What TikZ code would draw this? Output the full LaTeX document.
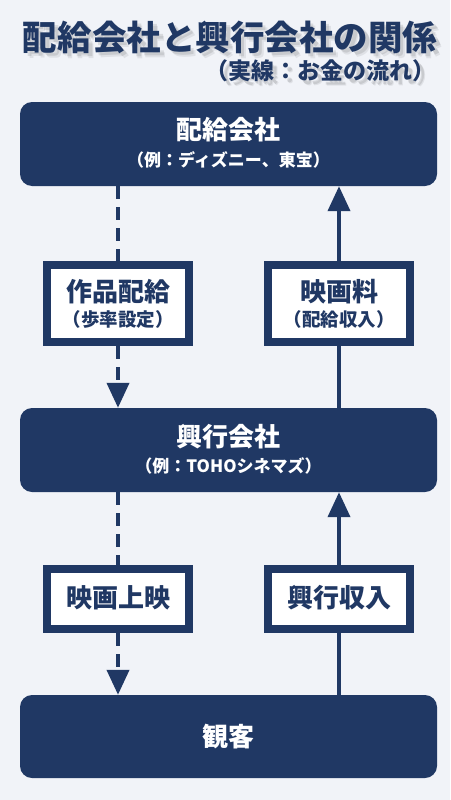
\documentclass[tikz,border=0pt]{standalone}
\usepackage{fontspec}
\setmainfont{Noto Sans CJK JP}
\usetikzlibrary{arrows.meta}
\definecolor{navy}{HTML}{203864}
\definecolor{bgc}{HTML}{F1F3F8}
\begin{document}
\begin{tikzpicture}[x=1pt,y=-1pt,
  bigbox/.style={fill=navy,draw=none,rounded corners=12pt,minimum width=417pt,inner sep=0pt},
  labbox/.style={fill=white,draw=navy,line width=8pt,minimum width=142pt,inner sep=0pt},
  maintxt/.style={text=white,font=\bfseries\fontsize{26}{30}\selectfont,inner sep=0pt},
  subtxt/.style={text=white,font=\bfseries\fontsize{17}{20}\selectfont,inner sep=0pt},
  labtxt/.style={text=navy,font=\bfseries\fontsize{26}{30}\selectfont,inner sep=0pt},
  labsub/.style={text=navy,font=\bfseries\fontsize{18.5}{22}\selectfont,inner sep=0pt},
  ttl/.style={font=\bfseries\fontsize{34.5}{38}\selectfont,inner sep=0pt},
  sttl/.style={font=\bfseries\fontsize{23}{26}\selectfont,inner sep=0pt,anchor=east},
  conn/.style={draw=navy,line width=4pt},
  dconn/.style={conn,dash pattern=on 13pt off 8pt},
  tip/.style={-{Triangle[width=22pt,length=25pt]}}
]
\fill[bgc] (0,0) rectangle (450,800);
\useasboundingbox (0,0) rectangle (450,800);
% title with soft shadow
\foreach \dx/\op in {5/0.07,3.5/0.1}{
  \node[ttl,text=black,opacity=\op] at (230+\dx,37+\dx) {配給会社と興行会社の関係};
  \node[sttl,text=black,opacity=\op] at (436+\dx,71+\dx) {（実線：お金の流れ）};
}
\node (title) [ttl,text=navy] at (230,37) {配給会社と興行会社の関係};
\node (subtitle) [sttl,text=navy] at (436,71) {（実線：お金の流れ）};
% big boxes
\node (b1) [bigbox,minimum height=84pt] at (228.5,144) {};
\node (b2) [bigbox,minimum height=84pt] at (228.5,450) {};
\node (b3) [bigbox,minimum height=83pt] at (228.5,736.5) {};
\node (b1t) [maintxt] at (228.5,130) {配給会社};
\node (b1s) [subtxt] at (228.5,160) {（例：ディズニー、東宝）};
\node (b2t) [maintxt] at (228.5,437) {興行会社};
\node (b2s) [subtxt] at (228.5,466) {（例：TOHOシネマズ）};
\node (b3t) [maintxt] at (228.5,737) {観客};
% label boxes
\node (l1) [labbox,minimum height=77pt] at (118,303.5) {};
\node (r1) [labbox,minimum height=77pt] at (339,303.5) {};
\node (l2) [labbox,minimum height=60pt] at (118,599) {};
\node (r2) [labbox,minimum height=60pt] at (339,599) {};
\node (l1t) [labtxt] at (118,292) {作品配給};
\node (l1s) [labsub] at (118,319) {（歩率設定）};
\node (r1t) [labtxt] at (339,292) {映画料};
\node (r1s) [labsub] at (339,319) {（配給収入）};
\node (l2t) [labtxt] at (118,598) {映画上映};
\node (r2t) [labtxt] at (339,598) {興行収入};
% connectors
\draw[dconn] (l1.north |- b1.south) -- (l1.north);
\draw[dconn,tip] (l1.south) -- (l1.south |- b2.north);
\draw[conn,tip] (r1.north) -- (r1.north |- b1.south);
\draw[conn] (r1.south |- b2.north) -- (r1.south);
\draw[dconn] (l2.north |- b2.south) -- (l2.north);
\draw[dconn,tip] (l2.south) -- (l2.south |- b3.north);
\draw[conn,tip] (r2.north) -- (r2.north |- b2.south);
\draw[conn] (r2.south |- b3.north) -- (r2.south);
\end{tikzpicture}
\end{document}
